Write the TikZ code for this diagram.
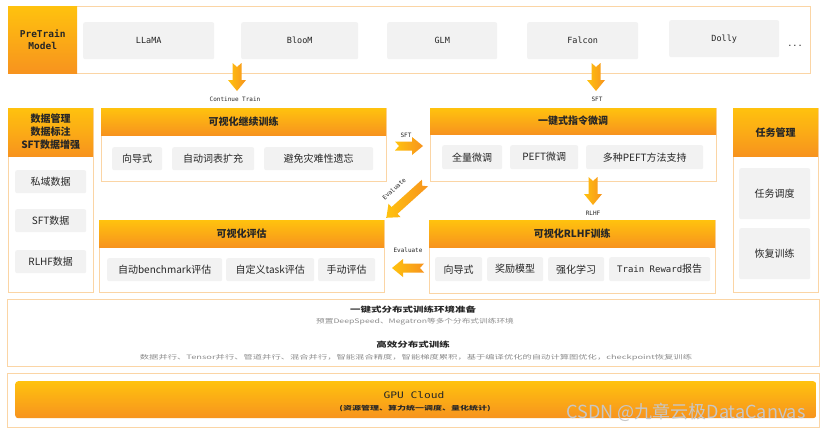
\documentclass[tikz,border=0pt]{standalone}
\usepackage{fontspec}
\setmainfont{Noto Sans CJK SC}
\setmonofont{DejaVu Sans Mono}
\usetikzlibrary{calc}
\definecolor{OrangeTop}{HTML}{FFC20E}
\definecolor{OrangeBot}{HTML}{F7931E}
\definecolor{EdgeOrange}{HTML}{FBD5A5}
\definecolor{ItemGray}{HTML}{F2F2F2}
\definecolor{TextDark}{HTML}{262626}
\definecolor{SubGray}{HTML}{8C8C8C}
\newcommand\fs[1]{\fontsize{#1}{1.3\dimexpr#1pt\relax}\selectfont}

\tikzset{
  panel/.style={draw=EdgeOrange, line width=1pt, fill=white, anchor=north west, inner sep=0pt},
  header/.style={top color=OrangeTop, bottom color=OrangeBot, anchor=north west, inner sep=0pt,
    text=TextDark, font=\bfseries\fs{10}, align=center},
  item/.style={fill=ItemGray, rounded corners=2pt, anchor=north west, inner sep=0pt,
    text=TextDark, font=\fs{10}},
  model/.style={item, font=\ttfamily\fs{8.5}},
  lbl/.style={text=TextDark, font=\ttfamily\fs{6}},
  wide/.style={xscale=#1, inner sep=0pt},
  arrowlen/.initial=28,
  blockarrow/.pic={
    \def\L{\pgfkeysvalueof{/tikz/arrowlen}}
    \shade[left color=OrangeTop, right color=OrangeBot]
      (0,-4.5) -- (\L-11,-4.5) -- (\L-11,-9) -- (\L,0) -- (\L-11,9) -- (\L-11,4.5) -- (0,4.5) -- (4,0) -- cycle;
  }
}

\begin{document}
\begin{tikzpicture}[x=1pt, y=-1pt]
\useasboundingbox[fill=white] (0,0) rectangle (827,434);

% modelos preentrenados
\node[panel, minimum width=802, minimum height=67] (models) at (8,6) {};
\node[header, font=\ttfamily\bfseries\fs{9.5}, minimum width=69, minimum height=67] (pretrain) at (8,6) {PreTrain\\Model};
\node[model, minimum width=131, minimum height=37] (llama) at (83,22) {LLaMA};
\node[model, minimum width=117, minimum height=37] (bloom) at (241,22) {BlooM};
\node[model, minimum width=110, minimum height=37] (glm) at (387,22) {GLM};
\node[model, minimum width=111, minimum height=37] (falcon) at (527,22) {Falcon};
\node[model, minimum width=110, minimum height=37] (dolly) at (669,20) {Dolly};
\node[text=TextDark, font=\ttfamily\fs{8.5}] (more) at (795,46) {...};

% gestion de datos
\node[panel, minimum width=85, minimum height=184] (data) at (8,108) {};
\node[header, minimum width=85, minimum height=48] (datahead) at (data.north west) {数据管理\\数据标注\\SFT数据增强};
\node[item, minimum width=71, minimum height=23] (private) at (15,170) {私域数据};
\node[item, minimum width=71, minimum height=23] (sftdata) at (15,209) {SFT数据};
\node[item, minimum width=71, minimum height=23] (rlhfdata) at (15,250) {RLHF数据};

% entrenamiento continuo
\node[panel, minimum width=285, minimum height=73] (cpt) at (101,108) {};
\node[header, minimum width=285, minimum height=27] (cpthead) at (cpt.north west) {可视化继续训练};
\node[item, minimum width=50, minimum height=23] (wizard1) at (112,147) {向导式};
\node[item, minimum width=82, minimum height=23] (vocab) at (172,147) {自动词表扩充};
\node[item, minimum width=109, minimum height=23] (forget) at (264,147) {避免灾难性遗忘};

% ajuste de instrucciones
\node[panel, minimum width=286, minimum height=73] (sft) at (430,108) {};
\node[header, minimum width=286, minimum height=26] (sfthead) at (sft.north west) {一键式指令微调};
\node[item, minimum width=60, minimum height=24] (full) at (442,145) {全量微调};
\node[item, minimum width=68, minimum height=24] (peft) at (510,145) {PEFT微调};
\node[item, minimum width=117, minimum height=24] (multi) at (586,145) {多种PEFT方法支持};

% evaluacion
\node[panel, minimum width=285, minimum height=72] (eval) at (99,220) {};
\node[header, minimum width=285, minimum height=27] (evalhead) at (eval.north west) {可视化评估};
\node[item, minimum width=115, minimum height=23] (bench) at (107,258) {自动benchmark评估};
\node[item, minimum width=88, minimum height=23] (task) at (226,258) {自定义task评估};
\node[item, minimum width=57, minimum height=23] (manual) at (318,258) {手动评估};

% rlhf
\node[panel, minimum width=286, minimum height=73] (rlhf) at (429,220) {};
\node[header, minimum width=286, minimum height=27] (rlhfhead) at (rlhf.north west) {可视化RLHF训练};
\node[item, minimum width=47, minimum height=24] (wizard2) at (435,257) {向导式};
\node[item, minimum width=56, minimum height=24] (reward) at (487,257) {奖励模型};
\node[item, minimum width=56, minimum height=24] (rl) at (548,257) {强化学习};
\node[item, minimum width=101, minimum height=24] (report) at (609,257) {{\ttfamily\fs{9}Train Reward}报告};

% gestion de tareas
\node[panel, minimum width=85, minimum height=184] (jobs) at (733,108) {};
\node[header, minimum width=85, minimum height=48] (jobshead) at (jobs.north west) {任务管理};
\node[item, minimum width=71, minimum height=51] (sched) at (739,168) {任务调度};
\node[item, minimum width=71, minimum height=51] (resume) at (739,228) {恢复训练};

% flechas
\coordinate (ctTail) at (237,63);
\coordinate (sftTail) at (596,63);
\coordinate (rightTail) at (395,146);
\coordinate (diagTail) at (425,183);
\coordinate (rlhfTail) at (593,177);
\coordinate (leftTail) at (424,268);
\pic[rotate=-90] at (ctTail) {blockarrow};
\pic[rotate=-90] at (sftTail) {blockarrow};
\pic at (rightTail) {blockarrow};
\pic[rotate=222, arrowlen=52] at (diagTail) {blockarrow};
\pic[rotate=-90] at (rlhfTail) {blockarrow};
\pic[rotate=180, arrowlen=32] at (leftTail) {blockarrow};
\node[lbl] (ctlbl) at (235,99) {Continue Train};
\node[lbl] (sftlbl) at (597,99) {SFT};
\node[lbl] (rightlbl) at (406,135) {SFT};
\node[lbl, rotate=42] (diaglbl) at (394,189) {Evaluate};
\node[lbl] (rlhflbl) at (593,213) {RLHF};
\node[lbl] (leftlbl) at (408,250) {Evaluate};

% entorno distribuido
\node[panel, minimum width=812, minimum height=67] (dist) at (7,299) {};
\node[wide=1.4, text=TextDark, font=\bfseries\fs{7.5}] (envtitle) at (413,310) {一键式分布式训练环境准备};
\node[wide=1.4, text=SubGray, font=\fs{6.2}] (envtext) at (415,322) {预置DeepSpeed、Megatron等多个分布式训练环境};
\node[wide=1.4, text=TextDark, font=\bfseries\fs{7.5}] (paratitle) at (413,345) {高效分布式训练};
\node[wide=1.55, text=SubGray, font=\fs{6}] (paratext) at (416,358) {数据并行、Tensor并行、管道并行、混合并行，智能混合精度，智能梯度累积，基于编译优化的自动计算图优化，checkpoint恢复训练};

% gpu cloud
\node[panel, minimum width=812, minimum height=54] (cloud) at (7,373) {};
\node[header, rounded corners=3pt, minimum width=801, minimum height=37] (gpu) at (15,381) {};
\node[wide=1.25, text=TextDark, font=\ttfamily\fs{9}] (gputitle) at (414,395) {GPU Cloud};
\node[wide=1.5, text=TextDark, font=\bfseries\fs{6}] (gputext) at (415,409) {(资源管理、算力统一调度、量化统计)};

\node[text=white!78!black, font=\fs{18}] (mark) at (686,412) {CSDN @九章云极DataCanvas};
\end{tikzpicture}
\end{document}
